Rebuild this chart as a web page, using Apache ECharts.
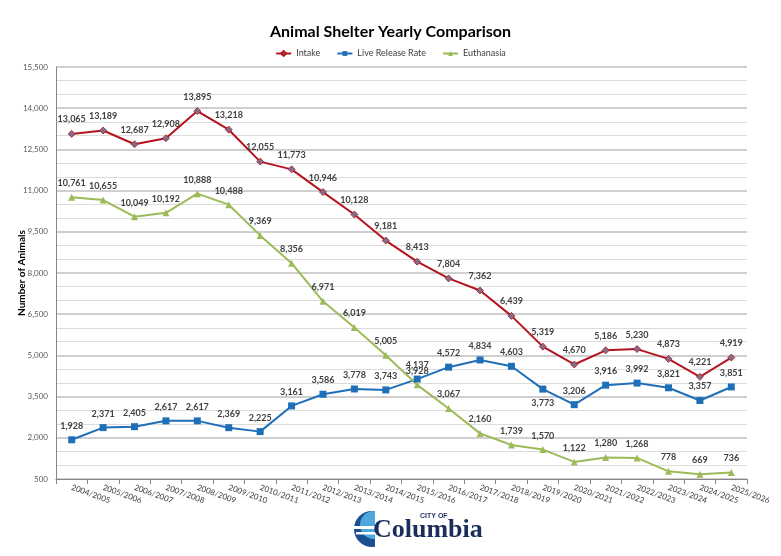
<!DOCTYPE html>
<html>
<head>
<meta charset="utf-8">
<script src="https://cdn.jsdelivr.net/npm/echarts@6/dist/echarts.min.js"></script>
<style>
  html, body { margin: 0; padding: 0; background: #fff; }
  #chart { width: 781px; height: 556px; }
</style>
</head>
<body>
<div id="chart"></div>
<script>
var years = ['2004/2005', '2005/2006', '2006/2007', '2007/2008', '2008/2009', '2009/2010',
    '2010/2011', '2011/2012', '2012/2013', '2013/2014', '2014/2015', '2015/2016', '2016/2017',
    '2017/2018', '2018/2019', '2019/2020', '2020/2021', '2021/2022', '2022/2023', '2023/2024',
    '2024/2025', '2025/2026']
var intake = [13065, 13189, 12687, 12908, 13895, 13218, 12055, 11773, 10946, 10128, 9181,
    8413, 7804, 7362, 6439, 5319, 4670, 5186, 5230, 4873, 4221, 4919]
var liveRelease = [1928, 2371, 2405, 2617, 2617, 2369, 2225, 3161, 3586, 3778, 3743,
    4137, 4572, 4834, 4603, 3773, 3206, 3916, 3992, 3821, 3357, 3851]
var euthanasia = [10761, 10655, 10049, 10192, 10888, 10488, 9369, 8356, 6971, 6019, 5005,
    3928, 3067, 2160, 1739, 1570, 1122, 1280, 1268, 778, 669, 736]
// live release labels that sit under the point
var liveBelow = ['2019/2020']

var font = 'Lato, "Open Sans", sans-serif'
var myChart = echarts.init(document.getElementById('chart'))

function labelFmt(p) {
    return p.value.toLocaleString('en-US')
}

var labelStyle = {
    show: true,
    position: 'top',
    distance: 6,
    fontFamily: font,
    fontSize: 9,
    fontWeight: 'bold',
    color: '#404040',
    formatter: labelFmt
}

var option = {
    animation: false,
    title: {
        text: 'Animal Shelter Yearly Comparison',
        left: 'center',
        top: 19,
        textStyle: {fontFamily: font, fontSize: 16, fontWeight: 'bold', color: '#000'}
    },
    legend: {
        top: 44,
        left: 'center',
        itemGap: 16,
        itemWidth: 15,
        itemHeight: 6,
        textStyle: {fontFamily: font, fontSize: 9, color: '#404040'},
        data: ['Intake', 'Live Release Rate', 'Euthanasia']
    },
    grid: {left: 56, right: 34, top: 67, bottom: 77, outerBoundsMode: 'none'},
    xAxis: {
        type: 'category',
        data: years,
        boundaryGap: true,
        axisLine: {lineStyle: {color: '#868686'}},
        axisTick: {show: true, length: 5, lineStyle: {color: '#868686'}},
        axisLabel: {
            rotate: -20,
            interval: 0,
            margin: 8,
            fontFamily: font,
            fontSize: 8,
            color: '#404040'
        }
    },
    yAxis: {
        type: 'value',
        min: 500,
        max: 15500,
        interval: 1500,
        name: 'Number of Animals',
        nameLocation: 'middle',
        nameGap: 29,
        nameMoveOverlap: false,
        nameTextStyle: {fontFamily: font, fontSize: 10, fontWeight: 'bold', color: '#000'},
        axisLine: {show: true, lineStyle: {color: '#868686'}},
        axisTick: {show: false},
        axisLabel: {
            fontFamily: font,
            fontSize: 8,
            color: '#595959',
            formatter: function (v) { return v.toLocaleString('en-US') }
        },
        splitLine: {lineStyle: {color: '#bfbfbf', width: 1.5}},
        minorTick: {show: false, splitNumber: 3},
        minorSplitLine: {show: true, lineStyle: {color: '#dcdcdc', width: 1}}
    },
    series: [{
        name: 'Intake',
        type: 'line',
        data: intake,
        symbol: 'diamond',
        symbolSize: 7,
        lineStyle: {color: '#b4141e', width: 2},
        itemStyle: {color: '#7f6f8f', borderColor: '#b4141e', borderWidth: 0.8},
        label: labelStyle
    }, {
        name: 'Live Release Rate',
        type: 'line',
        data: liveRelease.map(function (v, i) {
            if (liveBelow.indexOf(years[i]) >= 0) {
                return {value: v, label: {position: 'bottom'}}
            }
            return v
        }),
        symbol: 'rect',
        symbolSize: 7,
        lineStyle: {color: '#1f6fb8', width: 2},
        itemStyle: {color: '#1f6fb8'},
        label: labelStyle
    }, {
        name: 'Euthanasia',
        type: 'line',
        data: euthanasia,
        symbol: 'triangle',
        symbolSize: 7,
        lineStyle: {color: '#9bbb59', width: 2},
        itemStyle: {color: '#9bbb59'},
        label: labelStyle
    }],
    graphic: [{
        type: 'group',
        left: 354,
        top: 511,
        children: [{
            type: 'circle',
            shape: {cx: 18, cy: 18, r: 18},
            style: {fill: '#1c4f8f'}
        }, {
            type: 'circle',
            shape: {cx: 20, cy: 14, r: 14},
            style: {fill: '#4fa8dc'}
        }, {
            type: 'rect',
            shape: {x: 0, y: 15, width: 30, height: 3},
            style: {fill: '#fff'}
        }, {
            type: 'rect',
            shape: {x: 2, y: 21, width: 28, height: 2.5},
            style: {fill: '#fff'}
        }, {
            type: 'rect',
            shape: {x: 21, y: 0, width: 20, height: 37},
            style: {fill: '#fff'}
        }, {
            type: 'text',
            style: {
                text: 'Columbia', x: 19, y: 6,
                font: 'bold 26px "Liberation Serif", serif',
                fill: '#1b2d5c'
            }
        }, {
            type: 'text',
            style: {
                text: 'CITY OF', x: 66, y: 2,
                font: 'bold 7px "Liberation Sans", sans-serif',
                fill: '#1b2d5c'
            }
        }]
    }]
}

myChart.setOption(option)
</script>
</body>
</html>
